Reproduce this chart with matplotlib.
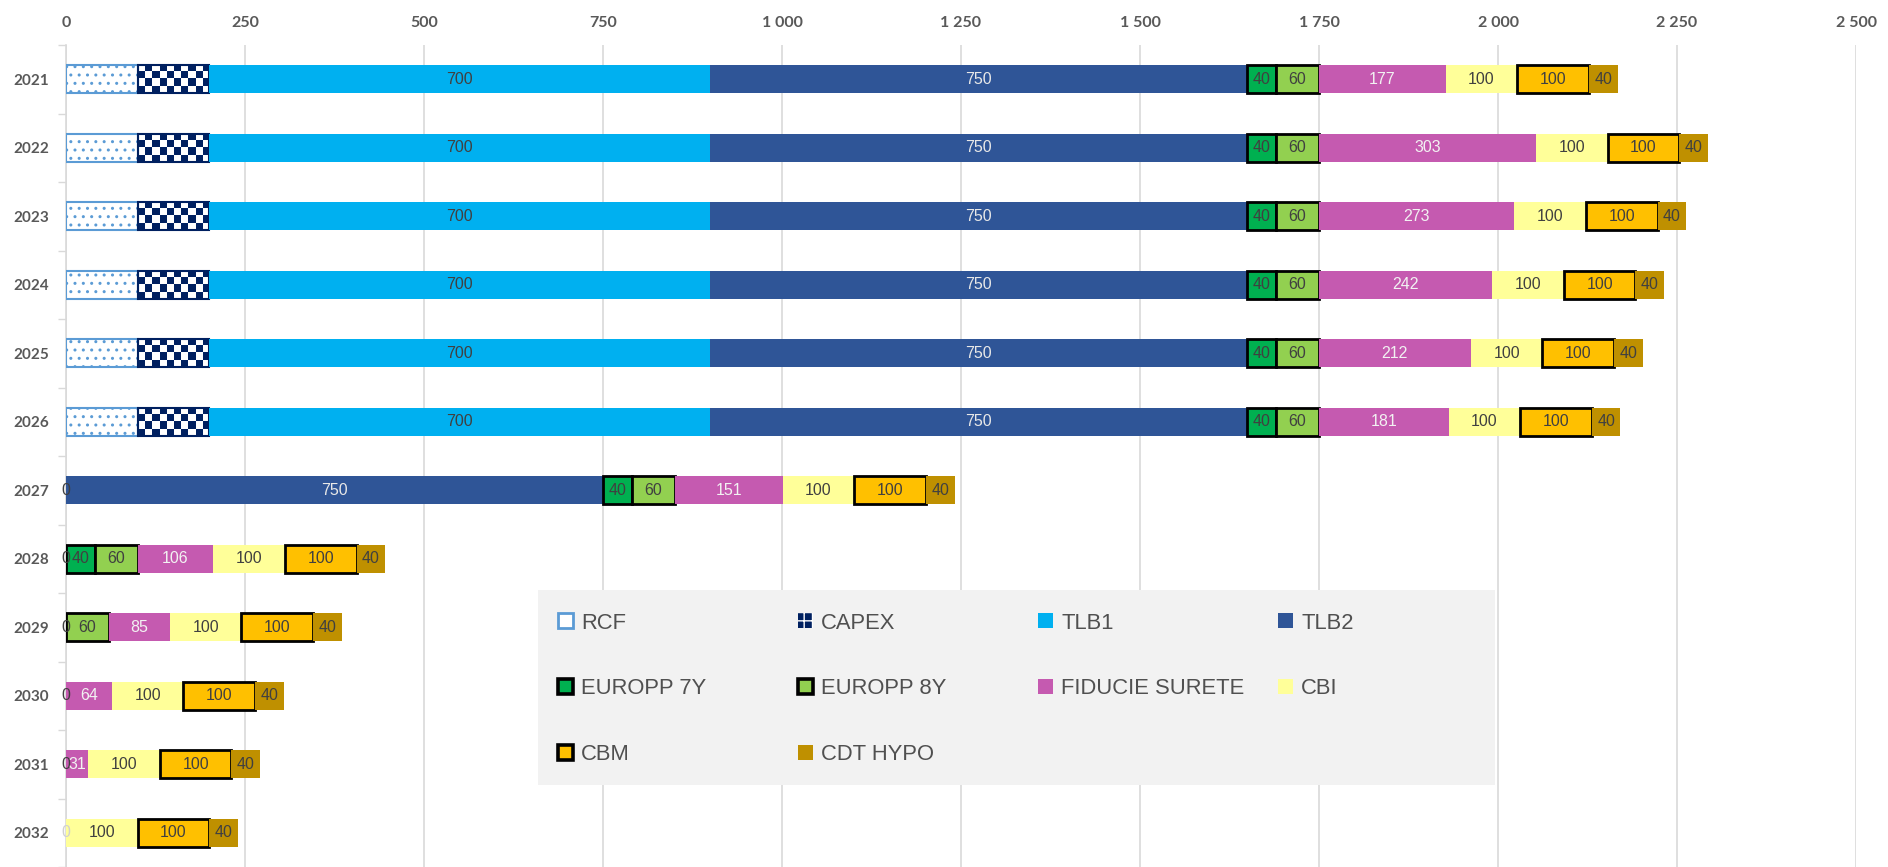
import numpy as np
import matplotlib
matplotlib.use('Agg')
import matplotlib.pyplot as plt
from matplotlib.patches import Patch, Rectangle
from matplotlib.colors import ListedColormap
from matplotlib.ticker import FuncFormatter, FixedLocator

years = ['2021', '2022', '2023', '2024', '2025', '2026', '2027', '2028', '2029', '2030', '2031', '2032']
N = None
rcf   = [100, 100, 100, 100, 100, 100, N, N, N, N, N, N]
capex = [100, 100, 100, 100, 100, 100, N, N, N, N, N, N]
tlb1  = [700, 700, 700, 700, 700, 700, 0, 0, N, N, N, N]
tlb2  = [750, 750, 750, 750, 750, 750, 750, N, N, N, N, N]
europp7 = [40, 40, 40, 40, 40, 40, 40, 40, 0, N, N, N]
europp8 = [60, 60, 60, 60, 60, 60, 60, 60, 60, 0, 0, N]
fiducie = [177, 303, 273, 242, 212, 181, 151, 106, 85, 64, 31, 0]
cbi   = [100, 100, 100, 100, 100, 100, 100, 100, 100, 100, 100, 100]
cbm   = [100, 100, 100, 100, 100, 100, 100, 100, 100, 100, 100, 100]
cdt   = [40, 40, 40, 40, 40, 40, 40, 40, 40, 40, 40, 40]

series_names = ['RCF', 'CAPEX', 'TLB1', 'TLB2', 'EUROPP 7Y', 'EUROPP 8Y',
                'FIDUCIE SURETE', 'CBI', 'CBM', 'CDT HYPO']
series_values = [rcf, capex, tlb1, tlb2, europp7, europp8, fiducie, cbi, cbm, cdt]
x_ticks = [0, 250, 500, 750, 1000, 1250, 1500, 1750, 2000, 2250, 2500]

styles = {
    'RCF':            dict(fc='white',   ec='#5B9BD5', lw=1.5, hatch='..', tc=None),
    'CAPEX':          dict(fc='none',    ec='#002060', lw=1.5, hatch=None, tc=None),
    'TLB1':           dict(fc='#00B0F0', ec='none',    lw=0,   hatch=None, tc='#404040'),
    'TLB2':           dict(fc='#2F5597', ec='none',    lw=0,   hatch=None, tc='#E8E8E8'),
    'EUROPP 7Y':      dict(fc='#00B050', ec='black',   lw=2.0, hatch=None, tc='#404040'),
    'EUROPP 8Y':      dict(fc='#92D050', ec='black',   lw=2.0, hatch=None, tc='#404040'),
    'FIDUCIE SURETE': dict(fc='#C55AB0', ec='none',    lw=0,   hatch=None, tc='#F2F2F2'),
    'CBI':            dict(fc='#FFFF99', ec='none',    lw=0,   hatch=None, tc='#404040'),
    'CBM':            dict(fc='#FFC000', ec='black',   lw=2.0, hatch=None, tc='#404040'),
    'CDT HYPO':       dict(fc='#BF9000', ec='none',    lw=0,   hatch=None, tc='#404040'),
}

fig = plt.figure(figsize=(18.88, 8.67), dpi=100)
ax = fig.add_axes([66 / 1888, 0.0, (1856 - 66) / 1888, 1 - 45 / 867])

bar_h = 0.41
ypos = np.arange(len(years))
lefts = np.zeros(len(years))

for name, vals in zip(series_names, series_values):
    st = styles[name]
    idx = [i for i, v in enumerate(vals) if v is not None and v > 0]
    widths = [vals[i] for i in idx]
    ls = [lefts[i] for i in idx]
    bars = ax.barh([ypos[i] for i in idx], widths, left=ls, height=bar_h,
                   facecolor=st['fc'], edgecolor=st['ec'], linewidth=st['lw'],
                   hatch=st['hatch'], zorder=3)
    if name == 'CAPEX':
        cmap = ListedColormap(['white', '#002060'])
        for p in bars.patches:
            x0, y0, w, h = p.get_x(), p.get_y(), p.get_width(), p.get_height()
            board = np.indices((4, 10)).sum(axis=0) % 2
            im = ax.imshow(board, cmap=cmap, extent=[x0, x0 + w, y0 + h, y0],
                           aspect='auto', interpolation='nearest', zorder=2.9)
            im.set_clip_path(p)
    if st['tc'] is not None:
        for i, v in enumerate(vals):
            if v is None:
                continue
            tc = st['tc']
            if v == 0 and name == 'FIDUCIE SURETE':
                tc = '#D0D0D0'
            ax.text(lefts[i] + v / 2, ypos[i], str(v), ha='center', va='center',
                    fontsize=11.5, color=tc, family='Liberation Sans', zorder=5)
    for i, v in enumerate(vals):
        if v is not None:
            lefts[i] += v

ax.set_xlim(0, 2500)
ax.set_ylim(len(years) - 0.5, -0.5)
ax.xaxis.tick_top()
ax.xaxis.set_major_locator(FixedLocator(x_ticks))
ax.xaxis.set_major_formatter(FuncFormatter(lambda v, p: f"{int(v):,}".replace(',', ' ')))
ax.tick_params(axis='x', length=0, pad=11, labelsize=11.5, labelcolor='#595959')
for lab in ax.get_xticklabels():
    lab.set_fontweight('bold')
    lab.set_family('Lato')
ax.set_yticks(ypos)
ax.set_yticklabels(years)
ax.set_yticks(np.arange(-0.5, len(years), 1), minor=True)
ax.tick_params(axis='y', which='major', length=0, pad=12, labelsize=11, labelcolor='#595959')
ax.tick_params(axis='y', which='minor', length=6, color='#D9D9D9', width=1)
for lab in ax.get_yticklabels():
    lab.set_fontweight('bold')
    lab.set_family('Lato')

ax.grid(axis='x', color='#D9D9D9', linewidth=1.2, zorder=0)
ax.set_axisbelow(True)
for s in ['top', 'right', 'bottom']:
    ax.spines[s].set_visible(False)
ax.spines['left'].set_color('#D9D9D9')
ax.spines['left'].set_linewidth(1.2)

# legend background box
fig.patches.append(Rectangle((538 / 1888, 1 - 785 / 867), (1495 - 538) / 1888, 195 / 867,
                             transform=fig.transFigure, facecolor='#F2F2F2',
                             edgecolor='none', zorder=5))


def make_handle(name):
    st = styles[name]
    if name == 'CAPEX':
        return Patch(facecolor='#002060', edgecolor='white', hatch='++', linewidth=0, label=name)
    if name == 'RCF':
        return Patch(facecolor='white', edgecolor='#5B9BD5', linewidth=2, label=name)
    return Patch(facecolor=st['fc'], edgecolor=st['ec'], linewidth=st['lw'] * 1.3, label=name)


legend_order = ['RCF', 'EUROPP 7Y', 'CBM', 'CAPEX', 'EUROPP 8Y', 'CDT HYPO',
                'TLB1', 'FIDUCIE SURETE', 'TLB2', 'CBI']
handles = [make_handle(n) for n in legend_order]

fs = 15.8
leg = fig.legend(handles=handles, loc='center left', ncol=4,
                 bbox_to_anchor=(558 / 1888, 1 - 689 / 867),
                 bbox_transform=fig.transFigure, frameon=False,
                 prop={'family': 'Liberation Sans', 'size': fs},
                 labelcolor='#505050', handlelength=0.68, handleheight=0.68,
                 handletextpad=0.37, labelspacing=2.05, borderpad=0,
                 borderaxespad=0, columnspacing=1.6)
leg.set_zorder(6)

# equal-width columns with a fixed pitch (~240 px)
try:
    hb = leg._legend_handle_box
    hb.mode = 'equal'
    fig.canvas.draw()
    r = fig.canvas.get_renderer()
    maxw = max(c.get_bbox(r).width for c in hb.get_visible_children())
    hb.sep = max(0.0, (240 - maxw)) * 72.0 / fig.dpi
except Exception:
    pass

fig.savefig('out.png', dpi=100)
